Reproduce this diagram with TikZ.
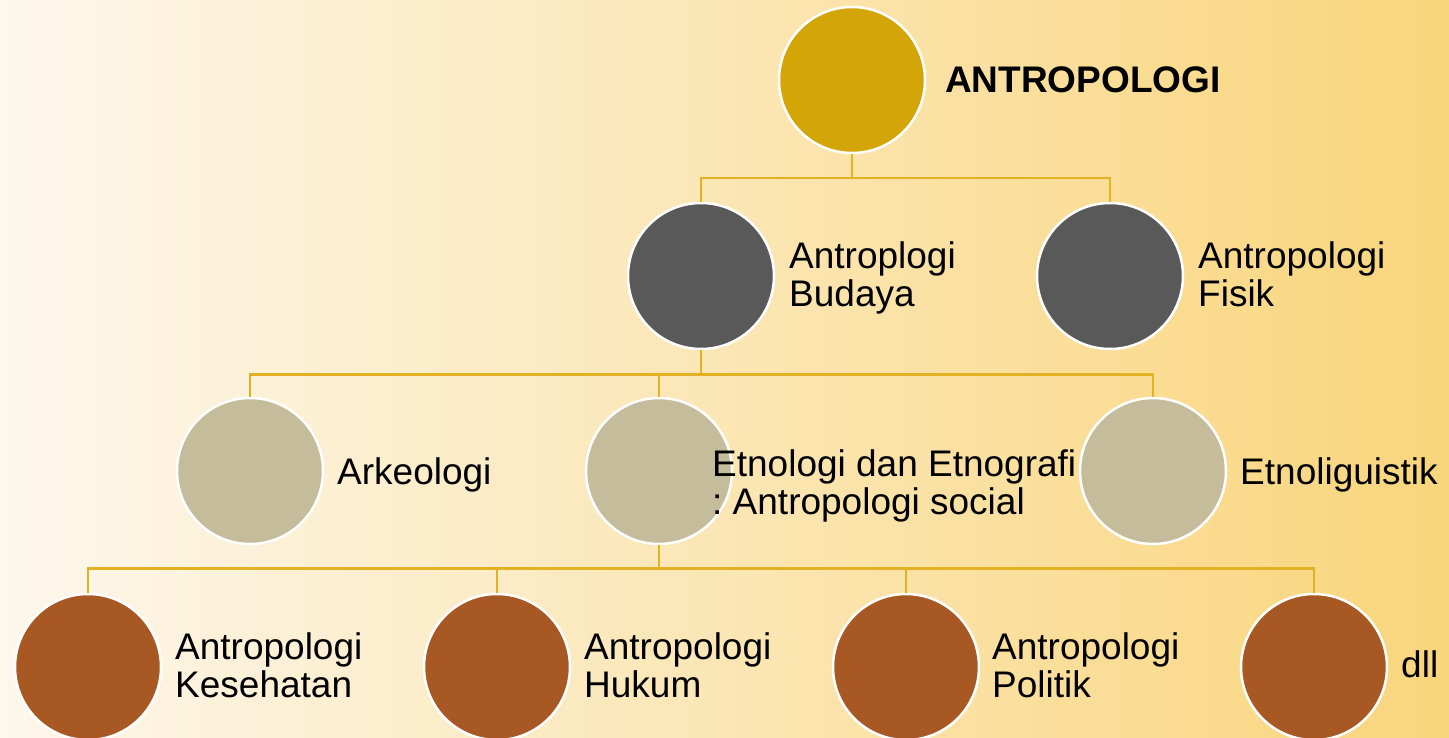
\documentclass[tikz,border=0pt]{standalone}
\usepackage{fontspec}
\setmainfont{Liberation Sans}
\definecolor{bgL}{RGB}{253,247,236}
\definecolor{bgR}{RGB}{249,213,124}
\definecolor{cTop}{RGB}{212,165,6}
\definecolor{cTwo}{RGB}{89,89,89}
\definecolor{cThree}{RGB}{196,188,154}
\definecolor{cFour}{RGB}{168,89,35}
\definecolor{cLine}{RGB}{226,178,36}
\begin{document}
\begin{tikzpicture}[x=1pt,y=-1pt,
  bub/.style={circle,draw=white,line width=2.5pt,minimum size=146pt,inner sep=0pt},
  lbl/.style={anchor=base west,inner sep=0pt,align=left,font=\fontsize{37}{38}\selectfont},
  conn/.style={draw=cLine,line width=2.5pt}]
\fill[left color=bgL,right color=bgR] (0,0) rectangle (1449,738);
\useasboundingbox (0,0) rectangle (1449,738);
% level 1
\node[bub,fill=cTop] (top) at (852,80) {};
\node[lbl,font=\fontsize{37}{38}\selectfont\bfseries] (ttop) at (945,93) {ANTROPOLOGI};
% level 2
\node[bub,fill=cTwo] (bud) at (701,276) {};
\node[lbl] (tbud) at (789,306) {Antroplogi\\Budaya};
\node[bub,fill=cTwo] (fis) at (1110,276) {};
\node[lbl] (tfis) at (1198,306) {Antropologi\\Fisik};
% level 3
\node[bub,fill=cThree] (ark) at (250,471) {};
\node[lbl] (tark) at (337,484) {Arkeologi};
\node[bub,fill=cThree] (etn) at (659,471) {};
\node[lbl] (tetn) at (712,514) {Etnologi dan Etnografi\\:\ Antropologi social};
\node[bub,fill=cThree] (eli) at (1153,471) {};
\node[lbl] (teli) at (1240,484) {Etnoliguistik};
% level 4
\node[bub,fill=cFour] (kes) at (88,667) {};
\node[lbl] (tkes) at (175,697) {Antropologi\\Kesehatan};
\node[bub,fill=cFour] (huk) at (497,667) {};
\node[lbl] (thuk) at (584,697) {Antropologi\\Hukum};
\node[bub,fill=cFour] (pol) at (906,667) {};
\node[lbl] (tpol) at (992,697) {Antropologi\\Politik};
\node[bub,fill=cFour] (dll) at (1314,667) {};
\node[lbl] (tdll) at (1401,677) {dll};
% connectors
\draw[conn] (top.south) -- ++(0,24) -| (bud.north);
\draw[conn] (top.south) -- ++(0,24) -| (fis.north);
\draw[conn] (bud.south) -- ++(0,24) -| (ark.north);
\draw[conn] (bud.south) -- ++(0,24) -| (etn.north);
\draw[conn] (bud.south) -- ++(0,24) -| (eli.north);
\draw[conn] (etn.south) -- ++(0,23) -| (kes.north);
\draw[conn] (etn.south) -- ++(0,23) -| (huk.north);
\draw[conn] (etn.south) -- ++(0,23) -| (pol.north);
\draw[conn] (etn.south) -- ++(0,23) -| (dll.north);
\end{tikzpicture}
\end{document}
